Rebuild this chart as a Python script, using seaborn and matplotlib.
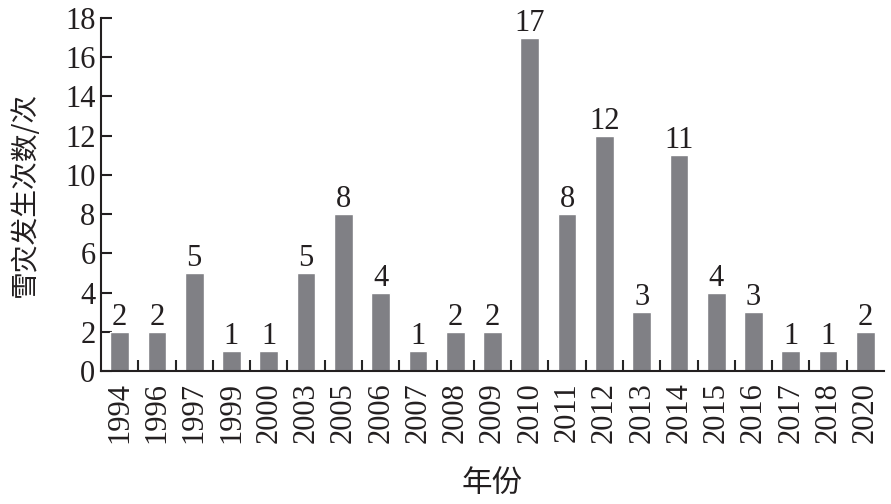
import matplotlib
matplotlib.use("Agg")
import matplotlib.pyplot as plt
import seaborn as sns
import pandas as pd
import numpy as np

years = ["1994", "1996", "1997", "1999", "2000", "2003", "2005", "2006", "2007", "2008",
         "2009", "2010", "2011", "2012", "2013", "2014", "2015", "2016", "2017", "2018", "2020"]
counts = [2, 2, 5, 1, 1, 5, 8, 4, 1, 2, 2, 17, 8, 12, 3, 11, 4, 3, 1, 1, 2]
y_ticks = [0, 2, 4, 6, 8, 10, 12, 14, 16, 18]

sns.set_theme(style="white")
plt.rcParams['font.family'] = ['Liberation Serif', 'Noto Sans CJK SC']

df = pd.DataFrame({"year": years, "count": counts})

fig = plt.figure(figsize=(8.91, 5.04), dpi=100)
ax = fig.add_axes([101/891, 1 - 371/504, 783/891, 353/504])

sns.barplot(data=df, x="year", y="count", color="#808085", saturation=1, width=0.5, ax=ax)

for c in ax.containers:
    ax.bar_label(c, fontsize=22, padding=0, color="#231f20")

ax.set_xlim(-0.5, len(years) - 0.5)
ax.set_ylim(0, 18)
ax.set_yticks(y_ticks)
ax.tick_params(axis='y', direction='in', length=8, width=1.5, labelsize=22, pad=4, colors="#231f20", left=True)
ax.set_xticks(np.arange(len(years)))
ax.set_xticklabels(years, rotation=90)
ax.tick_params(axis='x', which='major', length=0, labelsize=22, pad=8, colors="#231f20")
ax.set_xticks(np.arange(len(years) - 1) + 0.5, minor=True)
ax.tick_params(axis='x', which='minor', direction='in', length=8, width=1.5, bottom=True)

for s in ["top", "right"]:
    ax.spines[s].set_visible(False)
for s in ["left", "bottom"]:
    ax.spines[s].set_color("#231f20")
    ax.spines[s].set_linewidth(1.5)

ax.set_xlabel("年份", fontsize=22, family=['Noto Sans CJK SC'], color="#231f20", labelpad=18)
ax.set_ylabel("雪灾发生次数/次", fontsize=20, family=['Noto Sans CJK SC'], color="#231f20", labelpad=18)

fig.savefig("out.png", dpi=100)
